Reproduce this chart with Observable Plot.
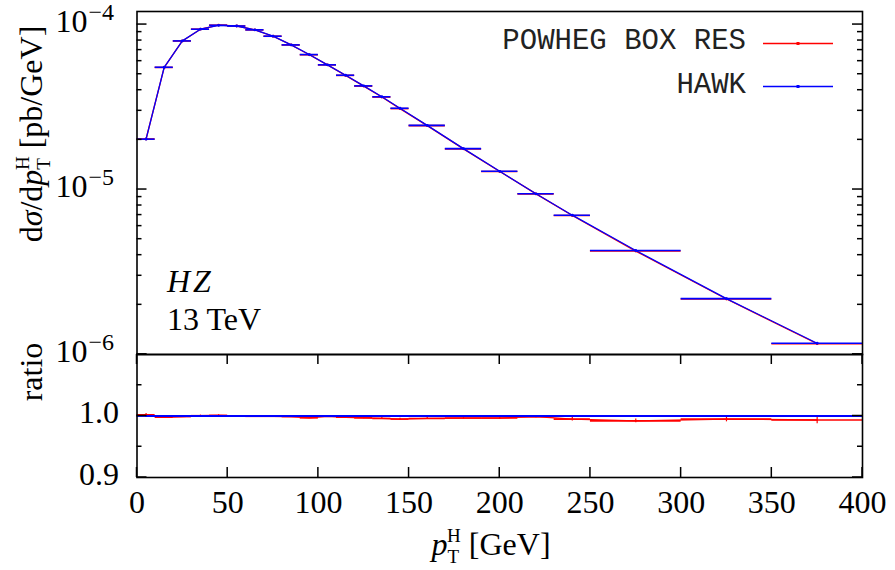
<!DOCTYPE html>
<html>
<head>
<meta charset="utf-8">
<script src="https://cdn.jsdelivr.net/npm/d3@7"></script>
<script src="https://cdn.jsdelivr.net/npm/@observablehq/plot@0.6"></script>
<style>
  body { margin: 0; background: #fff; }
  #chart { position: relative; width: 895px; height: 570px; overflow: hidden; background: #fff; }
  #chart svg { position: absolute; left: 0; overflow: visible; background: transparent; }
</style>
</head>
<body>
<div id="chart"></div>
<script>
// Higgs transverse-momentum bins [GeV]
const binLow  = [0, 10, 20, 30, 40, 50, 60, 70, 80, 90, 100, 110, 120, 130, 140, 150, 170, 190, 210, 230, 250, 300, 350];
const binHigh = [10, 20, 30, 40, 50, 60, 70, 80, 90, 100, 110, 120, 130, 140, 150, 170, 190, 210, 230, 250, 300, 350, 400];

// HAWK differential cross section dσ/dpT [pb/GeV]
const hawk = [2.02e-5, 5.51e-5, 7.96e-5, 9.37e-5, 9.9e-5, 9.8e-5, 9.29e-5, 8.5e-5, 7.53e-5, 6.58e-5,
              5.70e-5, 4.93e-5, 4.25e-5, 3.65e-5, 3.11e-5, 2.45e-5, 1.77e-5, 1.29e-5, 9.42e-6, 6.99e-6,
              4.27e-6, 2.18e-6, 1.17e-6];

// POWHEG BOX RES / HAWK ratio and its statistical uncertainty
const powhegRatio = [1.002, 0.998, 0.999, 1.0005, 1.001, 1.000, 0.9995, 0.9995, 0.999, 0.997,
                     0.9995, 0.998, 0.997, 0.996, 0.995, 0.996, 0.9967, 0.9967, 0.999, 0.995,
                     0.992, 0.995, 0.9935];
const powhegRatioErr = [0.002, 0.001, 0.001, 0.001, 0.001, 0.001, 0.001, 0.001, 0.001, 0.001,
                        0.001, 0.001, 0.0015, 0.0015, 0.0015, 0.0015, 0.002, 0.002, 0.002, 0.003,
                        0.003, 0.0045, 0.006];

// Axis ticks and labels
const xTicks = [0, 50, 100, 150, 200, 250, 300, 350, 400];
const yMajorTicks = [1e-6, 1e-5, 1e-4];
const yExponents = ["−6", "−5", "−4"];
const yMinorTicks = [2e-6, 3e-6, 4e-6, 5e-6, 6e-6, 7e-6, 8e-6, 9e-6,
                     2e-5, 3e-5, 4e-5, 5e-5, 6e-5, 7e-5, 8e-5, 9e-5];
const ratioMajorTicks = [0.9, 1.0, 1.1];
const ratioMinorTicks = [0.95, 1.05];
const ratioLabelTicks = [0.9, 1.0];
const ratioLabels = ["0.9", "1.0"];

const seriesNames = ["POWHEG BOX RES", "HAWK"];
const seriesColors = ["#ff0000", "#0000ff"];

const bins = binLow.map((lo, i) => ({
  lo, hi: binHigh[i], mid: (lo + binHigh[i]) / 2,
  hawk: hawk[i],
  powheg: hawk[i] * powhegRatio[i],
  ratio: powhegRatio[i],
  err: powhegRatioErr[i]
}));

const serif = "'Liberation Serif', 'Times New Roman', serif";
const mono = "'Liberation Mono', 'Courier New', monospace";
const tickStroke = "#000000";
const W = 895, ML = 136.5, MR = 33;

function histMarks(key, color, lw) {
  return [
    Plot.ruleY(bins, {x1: "lo", x2: "hi", y: key, stroke: color, strokeWidth: lw}),
    Plot.line(bins, {x: "mid", y: key, stroke: color, strokeWidth: 1.3}),
    Plot.dot(bins, {x: "mid", y: key, r: 1.4, fill: color, stroke: null})
  ];
}

// Upper panel: log-scale spectrum
const main = Plot.plot({
  width: W, height: 355,
  marginLeft: ML, marginRight: MR, marginTop: 11, marginBottom: 1,
  style: {background: "transparent", overflow: "visible", fontFamily: serif},
  x: {domain: [0, 400], axis: null},
  y: {type: "log", domain: [1e-6, 1.2e-4], axis: null},
  marks: [
    Plot.text(yMajorTicks, {y: d => d, frameAnchor: "left", text: () => "10", textAnchor: "end",
      dx: -49.5, dy: -2.5, fontSize: 32, fontFamily: serif, fill: "black"}),
    Plot.text(yMajorTicks, {y: d => d, frameAnchor: "left", text: (d, i) => yExponents[i], textAnchor: "start",
      dx: -48.5, dy: -12.5, fontSize: 24, fontFamily: serif, fill: "black"}),
    ...histMarks("powheg", seriesColors[0], 1.6),
    ...histMarks("hawk", seriesColors[1], 1.6),
    Plot.frame({stroke: "black", strokeWidth: 1.6})
  ]
});

// Lower panel: ratio to HAWK
const ratio = Plot.plot({
  width: W, height: 217,
  marginLeft: ML, marginRight: MR, marginTop: 1, marginBottom: 93,
  style: {background: "transparent", overflow: "visible", fontFamily: serif},
  x: {domain: [0, 400], axis: null},
  y: {domain: [0.9, 1.1], axis: null},
  marks: [
    Plot.text(xTicks, {x: d => d, frameAnchor: "bottom", lineAnchor: "top", dy: 13, text: d => String(d),
      fontSize: 32, fontFamily: serif, fill: "black"}),
    Plot.text(ratioLabelTicks, {y: d => d, frameAnchor: "left", text: (d, i) => ratioLabels[i], textAnchor: "end",
      dx: -18, dy: -3, fontSize: 32, fontFamily: serif, fill: "black"}),
    // POWHEG BOX RES / HAWK
    Plot.ruleY(bins, {x1: "lo", x2: "hi", y: "ratio", stroke: seriesColors[0], strokeWidth: 1.6}),
    Plot.line(bins, {x: "mid", y: "ratio", stroke: seriesColors[0], strokeWidth: 1.3}),
    Plot.ruleX(bins, {x: "mid", y1: d => d.ratio - d.err, y2: d => d.ratio + d.err, stroke: seriesColors[0], strokeWidth: 1.2}),
    // HAWK / HAWK
    Plot.ruleY(bins, {x1: "lo", x2: "hi", y: d => d.hawk / d.hawk, stroke: seriesColors[1], strokeWidth: 1.8}),
    Plot.line(bins, {x: "mid", y: d => d.hawk / d.hawk, stroke: seriesColors[1], strokeWidth: 1.8}),
    Plot.frame({stroke: "black", strokeWidth: 1.6})
  ]
});

main.style.top = "0px";
ratio.style.top = "353px";
const chart = document.getElementById("chart");
chart.appendChild(main);
chart.appendChild(ratio);

// Inward tick marks on all frame edges, positioned with each panel's own scales
function drawTicks(svg, yTickSets, xTickSet) {
  const sx = svg.scale("x"), sy = svg.scale("y");
  const x0 = Math.min(...sx.range), x1 = Math.max(...sx.range);
  const yb = Math.max(...sy.range), yt = Math.min(...sy.range);
  const sel = d3.select(svg);
  const tick = (ax, bx, ay, by) => sel.append("line")
    .attr("x1", ax).attr("x2", bx).attr("y1", ay).attr("y2", by)
    .attr("stroke", tickStroke).attr("stroke-width", 1.5);
  for (const {ticks, size} of yTickSets) {
    for (const t of ticks) {
      const py = +sy.apply(t);
      tick(x0, x0 + size, py, py);
      tick(x1 - size, x1, py, py);
    }
  }
  if (xTickSet) {
    for (const t of xTickSet.ticks) {
      const px = +sx.apply(t);
      tick(px, px, yb, yb - xTickSet.size);
      tick(px, px, yt, yt + xTickSet.size);
    }
  }
}
drawTicks(main, [{ticks: yMajorTicks, size: 10}, {ticks: yMinorTicks, size: 5}]);
drawTicks(ratio, [{ticks: ratioMajorTicks, size: 10}, {ticks: ratioMinorTicks, size: 5}],
  {ticks: xTicks, size: 10});

// Axis titles with sub/superscripts
function mathLabel(sel, parts) {
  for (const p of parts) {
    const t = sel.append("tspan").text(p.t);
    if (p.italic) t.attr("font-style", "italic");
    if (p.size) t.attr("font-size", p.size);
    if (p.dx) t.attr("dx", p.dx);
    if (p.dy) t.attr("dy", p.dy);
  }
}

const mainSel = d3.select(main);
const yTitle = mainSel.append("text")
  .attr("transform", "translate(42,134) rotate(-90)")
  .attr("text-anchor", "middle").attr("font-family", serif).attr("font-size", 32).attr("fill", "black");
mathLabel(yTitle, [
  {t: "d"}, {t: "σ", italic: true}, {t: "/d"}, {t: "p", italic: true},
  {t: "T", size: 19, dy: 8}, {t: "H", size: 19, dx: -12, dy: -21},
  {t: " [pb/GeV]", dy: 13}
]);

// Process annotation
mainSel.append("text").attr("x", 167).attr("y", 292).attr("text-anchor", "start")
  .attr("font-family", serif).attr("font-size", 32)
  .attr("font-style", "italic").attr("letter-spacing", 3).attr("fill", "black").text("HZ");
mainSel.append("text").attr("x", 167).attr("y", 330).attr("text-anchor", "start")
  .attr("font-family", serif).attr("font-size", 32)
  .attr("fill", "black").text("13 TeV");

// Key
seriesNames.forEach((name, i) => {
  const yText = 49 + i * 43.5, yLine = 43.5 + i * 43;
  mainSel.append("text").attr("x", 746).attr("y", yText).attr("text-anchor", "end")
    .attr("font-family", mono).attr("font-size", 29).attr("fill", "#222").text(name);
  mainSel.append("line").attr("x1", 763).attr("x2", 833).attr("y1", yLine).attr("y2", yLine)
    .attr("stroke", seriesColors[i]).attr("stroke-width", 1.3);
  mainSel.append("rect").attr("x", 796.5).attr("y", yLine - 1.5).attr("width", 3).attr("height", 3)
    .attr("fill", seriesColors[i]);
});

const ratioSel = d3.select(ratio);
ratioSel.append("text")
  .attr("transform", "translate(42,19) rotate(-90)")
  .attr("text-anchor", "middle").attr("font-family", serif).attr("font-size", 32).attr("fill", "black")
  .text("ratio");

const xTitle = ratioSel.append("text")
  .attr("x", 491).attr("y", 202)
  .attr("text-anchor", "middle").attr("font-family", serif).attr("font-size", 32).attr("fill", "black");
mathLabel(xTitle, [
  {t: "p", italic: true}, {t: "T", size: 19, dy: 8}, {t: "H", size: 19, dx: -12, dy: -21},
  {t: " [GeV]", dy: 13}
]);
</script>
</body>
</html>
